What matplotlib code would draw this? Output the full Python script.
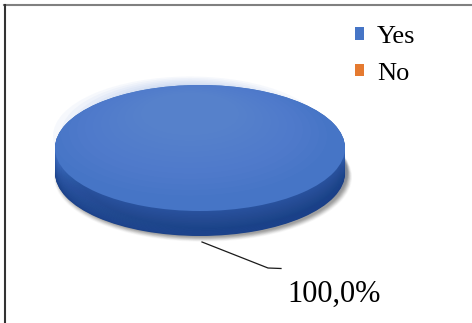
import numpy as np
import matplotlib
matplotlib.use('Agg')
import matplotlib.pyplot as plt
import matplotlib.colors as mcolors

# ── Data ─────────────────────────────────────────────────────────────────────
labels = ["Yes", "No"]
values = [100.0, 0.0]
colors = ["#4675C6", "#E57A30"]

# ── Geometry (pixels) ────────────────────────────────────────────────────────
W, H = 472, 323
SQ = 63 / 145          # vertical squash of the tilted disc
cx, cy = 200, 148      # top face centre
R = 145
THICK = 25

fig = plt.figure(figsize=(W / 100, H / 100), dpi=100)
ax = fig.add_axes([0, 0, 1, 1])

def py(y):
    return y / SQ

# shadow
for i, a in enumerate(np.linspace(0.05, 0.25, 8)):
    ax.pie([sum(values)], colors=["#7f7f7f"], radius=R + 4 - i * 0.6,
           center=(cx + 3, py(cy + THICK + 4 - i * 0.4)),
           wedgeprops=dict(alpha=a, linewidth=0), startangle=90, frame=True)

# side of the disc
side_top = mcolors.to_rgb("#3A69BB")
side_bot = mcolors.to_rgb("#1C428A")
n = 40
for k in range(n, -1, -1):
    t = k / n
    c = tuple(side_top[j] * (1 - t) + side_bot[j] * t for j in range(3))
    ax.pie(values, colors=[c, c], radius=R, center=(cx, py(cy + THICK * t)),
           wedgeprops=dict(linewidth=0), startangle=90, frame=True)

# darker right edge of the side
for k in range(10):
    ax.pie([sum(values)], colors=["#1A3C7C"], radius=R - k * 1.5,
           center=(cx + 4 + k * 0.6, py(cy + THICK - 2)),
           wedgeprops=dict(alpha=0.05, linewidth=0), startangle=90, frame=True)

# top face
wedges, _ = ax.pie(values, colors=colors, radius=R, center=(cx, py(cy)),
                   wedgeprops=dict(linewidth=0), startangle=90, frame=True)
# soft highlight on the top face
for k in range(12):
    ax.pie([sum(values)], colors=["#6F97DC"], radius=R - 8 - k * 8,
           center=(cx - 10, py(cy - 12 - k * 2)),
           wedgeprops=dict(alpha=0.06, linewidth=0), startangle=90, frame=True)

ax.set_aspect('auto')
ax.set_xlim(0, W)
ax.set_ylim(H / SQ, 0)
ax.axis('off')

# data label with leader line
share = values[0] / sum(values) * 100
label_txt = f"{share:.1f}%".replace(".", ",")
ax.plot([202, 268, 281], [py(242), py(268), py(268.5)], color="#1a1a1a", lw=0.9)
ax.text(287, py(302), label_txt, fontsize=22, family="Liberation Serif",
        va="baseline", ha="left")

# legend
leg = ax.legend(wedges, labels, loc="upper left", bbox_to_anchor=(355 / W, 1 - 26 / H),
                frameon=False, prop=dict(family="Liberation Serif", size=19),
                handlelength=0.33, handleheight=0.33, handletextpad=0.5,
                labelspacing=0.55, borderpad=0, borderaxespad=0)

# frame lines
fig.add_artist(plt.Line2D([4 / W, 1], [1 - 5 / H, 1 - 5 / H], color="#808080", lw=1.5,
                          transform=fig.transFigure))
fig.add_artist(plt.Line2D([4.5 / W, 4.5 / W], [0, 1 - 5 / H], color="#333333", lw=1.5,
                          transform=fig.transFigure))

fig.savefig("out.png", dpi=100)
